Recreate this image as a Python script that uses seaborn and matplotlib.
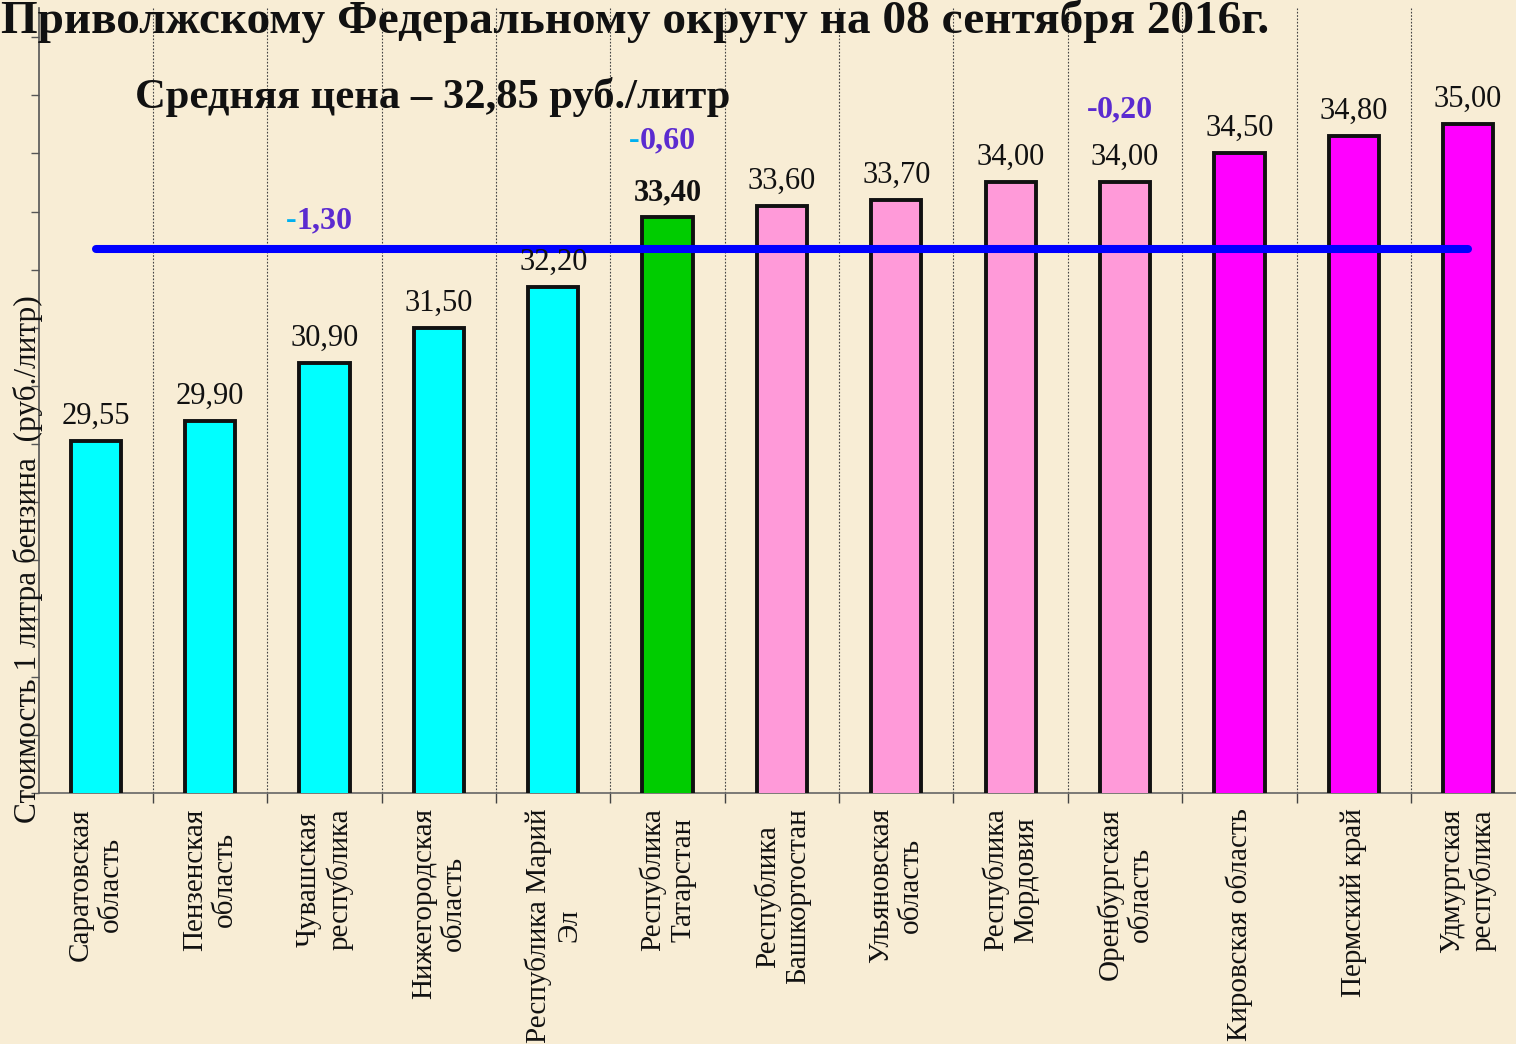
import numpy as np
import pandas as pd
import matplotlib
matplotlib.use("Agg")
import matplotlib.pyplot as plt
import seaborn as sns

# ---------------- data ----------------
regions = [
    "Саратовская\nобласть",
    "Пензенская\nобласть",
    "Чувашская\nреспублика",
    "Нижегородская\nобласть",
    "Республика Марий\nЭл",
    "Республика\nТатарстан",
    "Республика\nБашкортостан",
    "Ульяновская\nобласть",
    "Республика\nМордовия",
    "Оренбургская\nобласть",
    "Кировская область",
    "Пермский край",
    "Удмуртская\nреспублика",
]
prices = [29.55, 29.90, 30.90, 31.50, 32.20, 33.40, 33.60, 33.70, 34.00, 34.00, 34.50, 34.80, 35.00]
bar_colors = ["#00FFFF"] * 5 + ["#00CC00"] + ["#FF9AD9"] * 4 + ["#FF00FF"] * 3
avg_price = 32.85
highlight_index = 5  # Республика Татарстан (bold label)

delta_index = [2, 5, 9]
delta_values = ["1,30", "0,60", "0,20"]
delta_minus_colors = ["#00B0F0", "#00B0F0", "#5B2BD0"]

title_text = "Приволжскому Федеральному округу на 08 сентября 2016г."
subtitle_text = "Средняя цена – 32,85 руб./литр"
ylabel_text = "Стоимость 1 литра бензина  (руб./литр)"

# ---------------- layout constants ----------------
W, H, DPI = 1516, 1044, 100
y_min, y_max = 23.5, 37.0
delta_y_offset = [2.31, 1.19, 1.12]   # label baseline above bar top (data units)

sns.set_theme(style="white")
plt.rcParams["font.family"] = ["Liberation Serif", "DejaVu Serif"]

bg = "#F8EDD5"
fig = plt.figure(figsize=(W / DPI, H / DPI), dpi=DPI, facecolor=bg)
ax = fig.add_axes([38.6 / W, (H - 793) / H, 13 * 114.36 / W, (793 - 8) / H])
ax.set_facecolor("none")

df = pd.DataFrame({"region": regions, "price": prices})
sns.barplot(data=df, x="region", y="price", hue="region", palette=bar_colors,
            legend=False, width=0.44, edgecolor="#111111", linewidth=2.8,
            saturation=1, ax=ax, zorder=3)

ax.set_xlim(-0.5, len(regions) - 0.5)
ax.set_ylim(y_min, y_max)

# spines
for s in ["top", "right"]:
    ax.spines[s].set_visible(False)
ax.spines["left"].set_color("#555555")
ax.spines["left"].set_linewidth(1.2)
ax.spines["bottom"].set_color("#666666")
ax.spines["bottom"].set_linewidth(1.2)
ax.spines["left"].set_zorder(5)

# y ticks (no labels)
ax.set_yticks(np.arange(y_min, y_max, 1.0))
ax.set_yticklabels([])
ax.tick_params(axis="y", which="major", direction="out", length=6, width=1.0,
               color="#555555", left=True)
ax.set_ylabel("")

# x ticks: labels at categories, minor ticks at boundaries with dotted grid
ax.set_xticks(range(len(regions)))
ax.set_xticklabels(regions, rotation=90, fontsize=21, color="#111111",
                   ha="center", va="top", multialignment="center")
ax.tick_params(axis="x", which="major", length=0, pad=11)
ax.set_xticks(np.arange(0.5, len(regions) - 0.5, 1.0), minor=True)
ax.tick_params(axis="x", which="minor", direction="out", length=7, width=1.0,
               color="#444444", bottom=True)
ax.grid(False)
ax.grid(which="minor", axis="x", color="#444444", linestyle=(0, (1.5, 1.5)),
        linewidth=0.8, zorder=0)
ax.set_xlabel("")

# average line
ax.plot([0, len(regions) - 1], [avg_price, avg_price], color="#0000FF",
        lw=5.8, solid_capstyle="round", zorder=6)

# value labels
for i, v in enumerate(prices):
    ax.annotate(f"{v:.2f}".replace(".", ","), (i, v), xytext=(0, 12.5),
                textcoords="offset points", ha="center", va="baseline",
                fontsize=22, color="#111111",
                fontweight="bold" if i == highlight_index else "normal",
                zorder=7)

# delta labels
for k, i in enumerate(delta_index):
    y = prices[i] + delta_y_offset[k]
    ax.annotate("-", (i, y), xytext=(-20, 0), textcoords="offset points",
                ha="right", va="baseline", fontsize=23, fontweight="bold",
                color=delta_minus_colors[k], zorder=7)
    ax.annotate(delta_values[k], (i, y), xytext=(-20, 0), textcoords="offset points",
                ha="left", va="baseline", fontsize=23, fontweight="bold",
                color="#5B2BD0", zorder=7)

# titles
fig.text(1 / W, 1 - 33 / H, title_text, ha="left", va="baseline",
         fontsize=34.0, fontweight="bold", color="#111111")
fig.text(135 / W, 1 - 108 / H, subtitle_text, ha="left", va="baseline",
         fontsize=30.7, fontweight="bold", color="#111111")

# y label
fig.text(28 / W, 1 - 559 / H, ylabel_text, rotation=90, ha="center", va="center",
         fontsize=22.5, color="#111111")

fig.savefig("out.png", dpi=DPI, facecolor=bg)
